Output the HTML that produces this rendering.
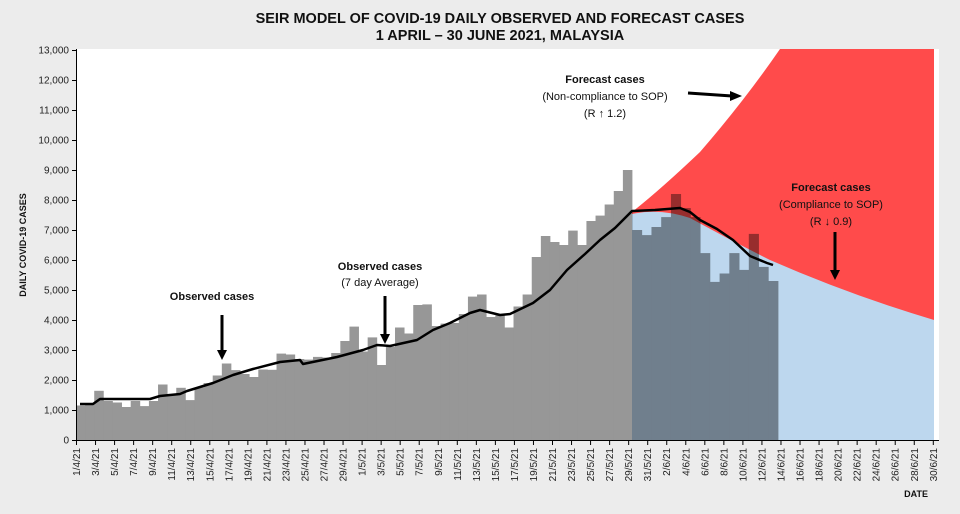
<!DOCTYPE html>
<html><head><meta charset="utf-8"><style>
html,body{margin:0;padding:0;background:#ececec;}
svg{display:block;font-family:"Liberation Sans",sans-serif;}
</style></head><body>
<svg width="960" height="514" viewBox="0 0 960 514" xmlns="http://www.w3.org/2000/svg">
<rect width="960" height="514" fill="#ececec"/>
<rect x="76" y="49" width="863" height="391" fill="#fff"/>
<text x="500" y="23" text-anchor="middle" font-size="14.5" font-weight="bold" fill="#111">SEIR MODEL OF COVID-19 DAILY OBSERVED AND FORECAST CASES</text>
<text x="500" y="40" text-anchor="middle" font-size="14.5" font-weight="bold" fill="#111">1 APRIL – 30 JUNE 2021, MALAYSIA</text>
<text transform="translate(26,245) rotate(-90)" text-anchor="middle" font-size="9" font-weight="bold" fill="#111">DAILY COVID-19 CASES</text>
<!-- forecast areas -->
<path d="M632,212 Q660,190 700,152 Q745,100 780,49 L934,49 L934,440 L632,440 Z" fill="#ff4b4b"/>
<path d="M632,214 Q660,208 690,218 Q730,240 770,260 Q850,295 934,320 L934,440 L632,440 Z" fill="#bdd7ee"/>
<g id="bars" fill="#979797" style="mix-blend-mode:multiply"></g>
<polyline fill="none" stroke="#000" stroke-width="2.5" stroke-linejoin="round" points="80,404 93,404 100,399 150,399 160,396 180,394 187,391 213,383 233,375 253,369 280,362 300,360 303,364 337,357 363,350 377,345 390,346 417,340 433,330 450,323 470,313 480,310 500,315 510,314 533,303 550,290 567,270 585,254 600,240 615,228 632,211 655,210 680,208 690,212 700,220 717,229 733,240 750,256 767,263 773,265"/>
<!-- axes -->
<g stroke="#000" stroke-width="1">
<line x1="76.5" y1="49" x2="76.5" y2="441"/>
<line x1="76" y1="440.5" x2="939" y2="440.5"/>
</g>
<g id="yt" font-size="10" fill="#222" text-anchor="end"></g>
<g id="xt" font-size="10" fill="#222"></g>
<text x="928" y="497" text-anchor="end" font-size="9" font-weight="bold" fill="#111">DATE</text>
<!-- annotations -->
<g font-size="11" fill="#111" text-anchor="middle">
<text x="212" y="300" font-weight="bold">Observed cases</text>
<text x="380" y="270" font-weight="bold">Observed cases</text>
<text x="380" y="286">(7 day Average)</text>
<text x="605" y="83" font-weight="bold">Forecast cases</text>
<text x="605" y="100">(Non-compliance to SOP)</text>
<text x="605" y="117">(R ↑ 1.2)</text>
<text x="831" y="191" font-weight="bold">Forecast cases</text>
<text x="831" y="208">(Compliance to SOP)</text>
<text x="831" y="225">(R ↓ 0.9)</text>
</g>
<g stroke="#000" stroke-width="3" fill="#000">
<line x1="222" y1="315" x2="222" y2="352"/><path d="M217,350 L227,350 L222,360Z" stroke="none"/>
<line x1="385" y1="296" x2="385" y2="336"/><path d="M380,334 L390,334 L385,344Z" stroke="none"/>
<line x1="688" y1="93" x2="732" y2="96"/><path d="M730,91 L742,96 L730,101Z" stroke="none"/>
<line x1="835" y1="232" x2="835" y2="272"/><path d="M830,270 L840,270 L835,280Z" stroke="none"/>
</g>
<script>
var ns="http://www.w3.org/2000/svg";
function Y(v){return 440-v*0.03;}
var g=document.getElementById('bars');
var gray=[1150,1200,1640,1300,1250,1100,1300,1130,1300,1850,1500,1740,1330,1750,1900,2150,2550,2330,2200,2100,2350,2340,2880,2850,2700,2680,2770,2750,2900,3300,3780,2950,3420,2500,3100,3750,3550,4500,4520,3800,3880,3900,4200,4780,4850,4100,4150,3750,4450,4850,6100,6800,6600,6500,6980,6500,7300,7480,7850,8300,9000];
var w=(632-76)/gray.length;
gray.forEach(function(v,i){var r=document.createElementNS(ns,'rect');r.setAttribute('x',76+i*w);r.setAttribute('width',w+0.4);r.setAttribute('y',Y(v));r.setAttribute('height',v*0.03);g.appendChild(r);});
var dark=[7000,6830,7100,7430,8200,7730,7430,6230,5270,5550,6230,5670,6870,5770,5300];
var w2=(778-632)/dark.length;
dark.forEach(function(v,i){var r=document.createElementNS(ns,'rect');r.setAttribute('x',632+i*w2);r.setAttribute('width',w2+0.4);r.setAttribute('y',Y(v));r.setAttribute('height',v*0.03);g.appendChild(r);});
var yt=document.getElementById('yt');
for(var k=0;k<=13;k++){var y=Y(k*1000);var t=document.createElementNS(ns,'text');t.setAttribute('x',69);t.setAttribute('y',y+3.5);t.textContent=k==0?'0':(k+',000');yt.appendChild(t);
var l=document.createElementNS(ns,'line');l.setAttribute('x1',72);l.setAttribute('x2',76);l.setAttribute('y1',y+0.5);l.setAttribute('y2',y+0.5);l.setAttribute('stroke','#000');yt.appendChild(l);}
var xt=document.getElementById('xt');
var step=9.52;
for(var d=0;d<=90;d+=2){var x=76+d*step;var day,mon;
if(d<30){day=d+1;mon=4;}else if(d<61){day=d-29;mon=5;}else{day=d-60;mon=6;}
var l=document.createElementNS(ns,'line');l.setAttribute('x1',x+.5);l.setAttribute('x2',x+.5);l.setAttribute('y1',440);l.setAttribute('y2',445);l.setAttribute('stroke','#000');xt.appendChild(l);
var t=document.createElementNS(ns,'text');t.setAttribute('text-anchor','end');t.setAttribute('transform','translate('+(x+4)+',448) rotate(-90)');t.textContent=day+'/'+mon+'/21';xt.appendChild(t);}
</script>
</svg>
</body></html>
